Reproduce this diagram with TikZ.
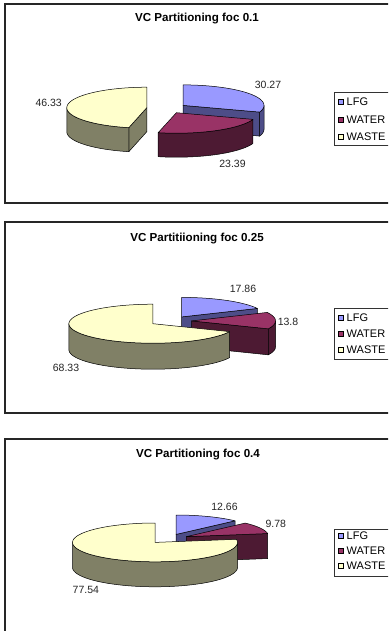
\documentclass[tikz,border=0pt]{standalone}
\usepackage{fontspec}
\setmainfont{Liberation Sans}
\definecolor{lfgtop}{HTML}{9999FF}
\definecolor{lfgside}{HTML}{4D4D88}
\definecolor{watertop}{HTML}{993366}
\definecolor{waterside}{HTML}{4D1A33}
\definecolor{wastetop}{HTML}{FFFFCC}
\definecolor{wasteside}{HTML}{808066}
% top face of a slice: centre x, centre y, start, end (deg clockwise from 12 o'clock), rx, ry, fill
\newcommand\slicetop[7]{%
  \filldraw[edge,fill=#7] (#1,#2) -- plot[domain=#3:#4,samples=60] ({#1+#5*sin(\x)},{#2-#6*cos(\x)}) -- cycle;}
% curved outer wall: centre x, centre y, start, end, rx, ry, depth, fill
\newcommand\sliceside[8]{%
  \filldraw[edge,fill=#8] plot[domain=#3:#4,samples=60] ({#1+#5*sin(\x)},{#2-#6*cos(\x)})
    -- plot[domain=#4:#3,samples=60] ({#1+#5*sin(\x)},{#2+#7-#6*cos(\x)}) -- cycle;}
% flat cut wall along one radius: centre x, centre y, angle, rx, ry, depth, fill
\newcommand\sliceface[7]{%
  \filldraw[edge,fill=#7] (#1,#2) -- ({#1+#4*sin(#3)},{#2-#5*cos(#3)}) -- ++(0,#6) -- (#1,{#2+#6}) -- cycle;}
\begin{document}
\begin{tikzpicture}[x=1pt,y=-1pt,
  frame/.style={draw=black!85,line width=1.3pt},
  edge/.style={draw=black,line width=0.5pt,line join=round},
  title/.style={font=\fontsize{11.6}{13}\selectfont\bfseries,inner sep=0pt},
  value/.style={font=\fontsize{10.5}{12}\selectfont,inner sep=0pt,text=black!85},
  legtext/.style={font=\fontsize{11}{13}\selectfont,anchor=west,inner sep=0pt},
  legbox/.style={draw=black!80,line width=0.6pt},
  swatch/.style={draw=black,line width=0.4pt,minimum size=5pt,inner sep=0pt}]
\fill[white] (0,0) rectangle (388,631);
\useasboundingbox (0,0) rectangle (388,631);
\clip (0,0) rectangle (388,631);

% ---------- chart 1 ----------
\draw[frame] (5,4) rectangle (400,203);
\node[title] (t1) at (197,18.3) {VC Partitioning foc 0.1};
% LFG
\sliceface{183.0}{105.4}{109}{81}{20.5}{24}{lfgside}
\sliceside{183.0}{105.4}{90}{109}{81}{20.5}{24}{lfgside}
\slicetop{183.0}{105.4}{0}{109}{81}{20.5}{lfgtop}
% WASTE
\sliceface{146.8}{107.7}{193}{80}{20.5}{24}{wasteside}
\sliceside{146.8}{107.7}{193}{270}{80}{20.5}{24}{wasteside}
\slicetop{146.8}{107.7}{193}{360}{80}{20.5}{wastetop}
% WATER
\sliceside{176.4}{112.7}{109}{193}{81}{20.5}{24}{waterside}
\slicetop{176.4}{112.7}{109}{193}{81}{20.5}{watertop}
\node[value] (v1a) at (268,85.3) {30.27};
\node[value] (v1b) at (232.5,164.3) {23.39};
\node[value] (v1c) at (48.7,102.7) {46.33};
\draw[legbox] (334.3,92.7) rectangle (396,145);
\node[swatch,fill=lfgtop] (s1a) at (340.8,101.7) {};
\node[swatch,fill=watertop] (s1b) at (340.8,119.3) {};
\node[swatch,fill=wastetop] (s1c) at (340.8,136.7) {};
\node[legtext] (l1a) at (346.5,101.7) {LFG};
\node[legtext] (l1b) at (346.5,119.3) {WATER};
\node[legtext] (l1c) at (346.5,136.7) {WASTE};

% ---------- chart 2 ----------
\draw[frame] (5,222) rectangle (400,413);
\node[title] (t2) at (197,238.3) {VC Partitiioning foc 0.25};
% LFG
\sliceface{181.7}{316.9}{64.3}{84}{19.5}{26}{lfgside}
\slicetop{181.7}{316.9}{0}{64.3}{84}{19.5}{lfgtop}
% WATER
\sliceface{191.5}{320.9}{113.98}{84}{19.5}{26}{waterside}
\sliceside{191.5}{320.9}{90}{113.98}{84}{19.5}{26}{waterside}
\slicetop{191.5}{320.9}{64.3}{113.98}{84}{19.5}{watertop}
% WASTE
\sliceside{152.9}{323.7}{113.98}{270}{84}{19.5}{26}{wasteside}
\slicetop{152.9}{323.7}{113.98}{360}{84}{19.5}{wastetop}
\node[value] (v2a) at (243,289) {17.86};
\node[value] (v2b) at (288,322.3) {13.8};
\node[value] (v2c) at (66,368.3) {68.33};
\draw[legbox] (334.3,308.3) rectangle (396,359);
\node[swatch,fill=lfgtop] (s2a) at (340.8,317.7) {};
\node[swatch,fill=watertop] (s2b) at (340.8,333.5) {};
\node[swatch,fill=wastetop] (s2c) at (340.8,350) {};
\node[legtext] (l2a) at (346.5,317.7) {LFG};
\node[legtext] (l2b) at (346.5,333.5) {WATER};
\node[legtext] (l2c) at (346.5,350) {WASTE};

% ---------- chart 3 ----------
\draw[frame] (5,439) rectangle (400,650);
\node[title] (t3) at (198,454.3) {VC Partitioning foc 0.4};
% LFG
\sliceface{176.1}{534.4}{45.58}{82.5}{19.4}{25}{lfgside}
\slicetop{176.1}{534.4}{0}{45.58}{82.5}{19.4}{lfgtop}
% WATER
\sliceface{186.3}{536.65}{80.78}{82.5}{19.4}{25}{waterside}
\slicetop{186.3}{536.65}{45.58}{80.78}{82.5}{19.4}{watertop}
% WASTE
\sliceside{155.0}{542.4}{90}{270}{82.5}{19.4}{25}{wasteside}
\slicetop{155.0}{542.4}{80.78}{360}{82.5}{19.4}{wastetop}
\node[value] (v3a) at (224.5,507.3) {12.66};
\node[value] (v3b) at (275.8,524) {9.78};
\node[value] (v3c) at (85.8,590) {77.54};
\draw[legbox] (334.3,529) rectangle (396,576);
\node[swatch,fill=lfgtop] (s3a) at (340.8,535.5) {};
\node[swatch,fill=watertop] (s3b) at (340.8,550.5) {};
\node[swatch,fill=wastetop] (s3c) at (340.8,566) {};
\node[legtext] (l3a) at (346.5,535.5) {LFG};
\node[legtext] (l3b) at (346.5,550.5) {WATER};
\node[legtext] (l3c) at (346.5,566) {WASTE};
\end{tikzpicture}
\end{document}
